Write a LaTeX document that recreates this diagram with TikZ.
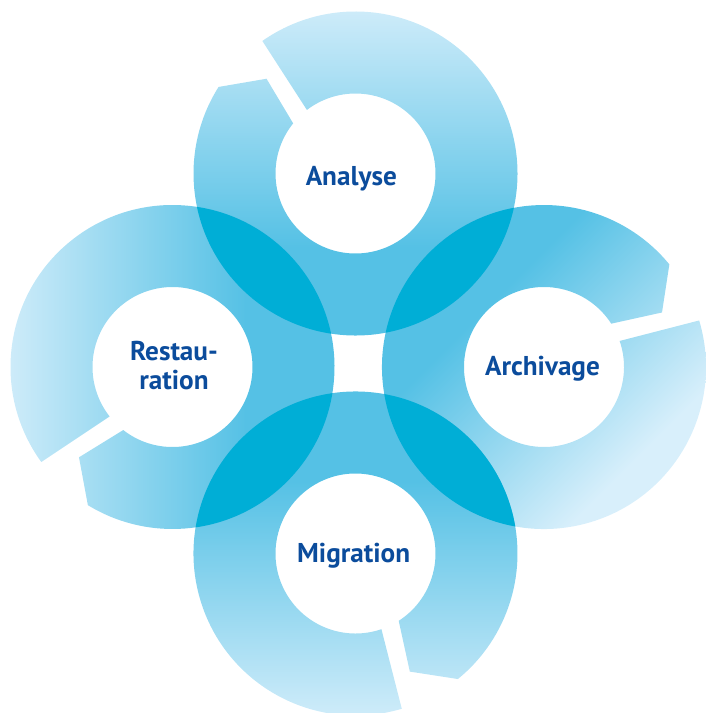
\documentclass[tikz,border=0pt]{standalone}
\usepackage{fontspec}
\newfontfamily\labfont{PT Sans}
\definecolor{ringmid}{HTML}{55C1E5}
\definecolor{ringlight}{HTML}{D8EFFB}
\definecolor{lenscol}{HTML}{00AED6}
\definecolor{txtcol}{HTML}{0B4C9C}
\pgfdeclareverticalshading{ringshade}{100bp}{color(0bp)=(ringmid); color(40bp)=(ringmid); color(75bp)=(ringlight); color(100bp)=(ringlight)}
\pgfdeclareverticalshading{ringshadediag}{100bp}{color(0bp)=(ringmid); color(38bp)=(ringmid); color(68bp)=(ringlight); color(100bp)=(ringlight)}
\newcommand{\myring}[5]{%
  \pgfmathsetmacro{\ha}{#3}%
  \pgfmathsetmacro{\hb}{#3-2.3}%
  \pgfmathsetmacro{\hc}{#3+20.3-360}%
  \pgfmathsetmacro{\hd}{#3+5.8}%
  \pgfmathsetmacro{\he}{#3+13.8}%
  \pgfmathsetmacro{\hf}{#3+13.8-360}%
  \shade[shift={(#1,#2)}, shading=#5, shading angle=#4]
    (\ha:80) -- (\hb:162) arc[start angle=\hb, end angle=\hc, radius=162]
    -- (\hd:130) -- (\he:80) arc[start angle=\hf, end angle=\ha, radius=80] -- cycle;%
}
\newcommand{\mylens}[4]{%
  \begin{scope}
    \clip (#1,#2) circle (162);
    \fill[lenscol] (#3,#4) circle (162);
  \end{scope}%
}
\tikzset{label/.style={text=txtcol, font=\labfont\bfseries\fontsize{27.2}{28.5}\selectfont, inner sep=0pt, align=center}}
\begin{document}
\begin{tikzpicture}[x=1pt,y=1pt]
\useasboundingbox (0,0) rectangle (705,-713);
% rings
\myring{355.5}{-173.5}{127.4}{0}{ringshade}
\myring{544}{-367}{19}{-135}{ringshadediag}
\myring{355.5}{-553.5}{288.9}{180}{ringshade}
\myring{172.5}{-367}{218.2}{90}{ringshade}
% overlaps
\mylens{355.5}{-173.5}{172.5}{-367}
\mylens{355.5}{-173.5}{544}{-367}
\mylens{355.5}{-553.5}{172.5}{-367}
\mylens{355.5}{-553.5}{544}{-367}
% labels
\node[label, anchor=base] (analyse) at (351.3,-185.7) {Analyse};
\node[label, anchor=base] (archivage) at (542.5,-375.7) {Archivage};
\node[label, anchor=base] (migration) at (353.7,-562.3) {Migration};
\node[label, anchor=center] (restauration) at (174,-365.5) {Restau-\\ration};
\end{tikzpicture}
\end{document}
